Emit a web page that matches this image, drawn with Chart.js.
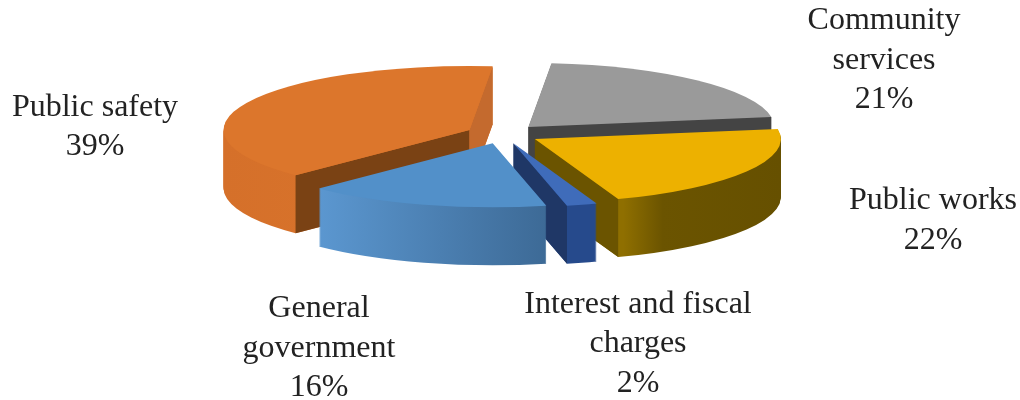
<!DOCTYPE html>
<html>
<head>
<meta charset="utf-8">
<style>html,body{margin:0;padding:0;background:#fff}canvas{display:block}</style>
<script src="https://cdn.jsdelivr.net/npm/chart.js@4"></script>
</head>
<body>
<canvas id="c" width="1020" height="400"></canvas>
<script>
// Expenditure shares, clockwise from the top of the pie
const categories = ['Community services', 'Public works', 'Interest and fiscal charges', 'General government', 'Public safety'];
const shares = [21, 22, 2, 16, 39];
const topColors = ['#9a9a9a', '#edb100', '#3f6cba', '#5290c9', '#dc762c'];
// Side wall shading: gradient stops across each slice's horizontal extent
const wallStops = [
  [[0, '#444444'], [1, '#444444']],
  [[0.36, '#8f6f00'], [0.52, '#6b5400'], [1, '#665000']],
  [[0, '#264a8c'], [1, '#264a8c']],
  [[0, '#5b97d0'], [1, '#3d6a96']],
  [[0, '#d5702a'], [1, '#dc762c']]
];
const startCutColors = ['#444444', '#6b5400', '#264a8c', '#3d6a96', '#7a4214'];
const endCutColors = ['#444444', '#6b5400', '#1f3766', '#3d6a96', '#c46a2e'];
// Back-to-front painting order of the slices
const paintOrder = [0, 4, 1, 2, 3];
const labelLines = [['Community', 'services'], ['Public works'], ['Interest and fiscal', 'charges'], ['General', 'government'], ['Public safety']];
const labelAnchors = [[884, 29], [933, 209], [638, 312.5], [319, 317], [95, 115.5]];

const tilt = 0.26;
const depth = 58;
const explode = 37;
const labelFont = '32px "Liberation Serif"';
const lineGap = 39.7;

const solidPie = {
  id: 'solidPie',
  beforeDatasetsDraw(chart) {
    const ctx = chart.ctx;
    const arcs = chart.getDatasetMeta(0).data;
    const squash = depth / tilt;
    for (const i of paintOrder) {
      const arc = arcs[i];
      const { x, y, startAngle: a0, endAngle: a1, outerRadius: r } = arc.getProps(['x', 'y', 'startAngle', 'endAngle', 'outerRadius']);
      const mid = (a0 + a1) / 2;
      ctx.save();
      ctx.translate(0, y);
      ctx.scale(1, tilt);
      ctx.translate(0, -y);
      ctx.translate(Math.cos(mid) * explode, Math.sin(mid) * explode);

      // Horizontal extent of the slice, for the wall gradient
      const xs = [x, x + Math.cos(a0) * r, x + Math.cos(a1) * r];
      if (a0 < Math.PI && a1 > Math.PI) xs.push(x - r);
      if (a0 < 0 && a1 > 0) xs.push(x + r);
      const grad = ctx.createLinearGradient(Math.min(...xs), 0, Math.max(...xs), 0);
      for (const [p, c] of wallStops[i]) grad.addColorStop(p, c);

      const ownOptions = arc.options;
      // Extrusion: the slice stacked downwards in wall colour
      arc.options = { ...ownOptions, backgroundColor: grad, borderWidth: 0 };
      for (let d = depth; d >= 1; d--) {
        ctx.save();
        ctx.translate(0, d / tilt);
        arc.draw(ctx);
        ctx.restore();
      }
      // Radial cut faces that look towards the viewer
      const cut = (a, color) => {
        const px = x + Math.cos(a) * r, py = y + Math.sin(a) * r;
        ctx.fillStyle = color;
        ctx.beginPath();
        ctx.moveTo(x, y);
        ctx.lineTo(px, py);
        ctx.lineTo(px, py + squash);
        ctx.lineTo(x, y + squash);
        ctx.closePath();
        ctx.fill();
      };
      if (-Math.cos(a0) > 0) cut(a0, startCutColors[i]);
      if (Math.cos(a1) > 0) cut(a1, endCutColors[i]);
      // Top face
      arc.options = ownOptions;
      arc.draw(ctx);
      ctx.restore();
    }
    return false;
  },
  afterDraw(chart) {
    const ctx = chart.ctx;
    ctx.save();
    ctx.fillStyle = '#222222';
    ctx.font = labelFont;
    ctx.textAlign = 'center';
    ctx.textBaseline = 'alphabetic';
    categories.forEach((_, i) => {
      const lines = [...labelLines[i], shares[i] + '%'];
      lines.forEach((t, n) => ctx.fillText(t, labelAnchors[i][0], labelAnchors[i][1] + n * lineGap));
    });
    ctx.restore();
  }
};

new Chart(document.getElementById('c'), {
  type: 'pie',
  data: {
    labels: categories,
    datasets: [{ data: shares, backgroundColor: topColors, borderWidth: 0 }]
  },
  options: {
    responsive: false,
    animation: false,
    rotation: 5.4,
    radius: 246,
    layout: { padding: { right: 14, bottom: 132 } },
    plugins: { legend: { display: false }, tooltip: { enabled: false } }
  },
  plugins: [solidPie]
});
</script>
</body>
</html>
